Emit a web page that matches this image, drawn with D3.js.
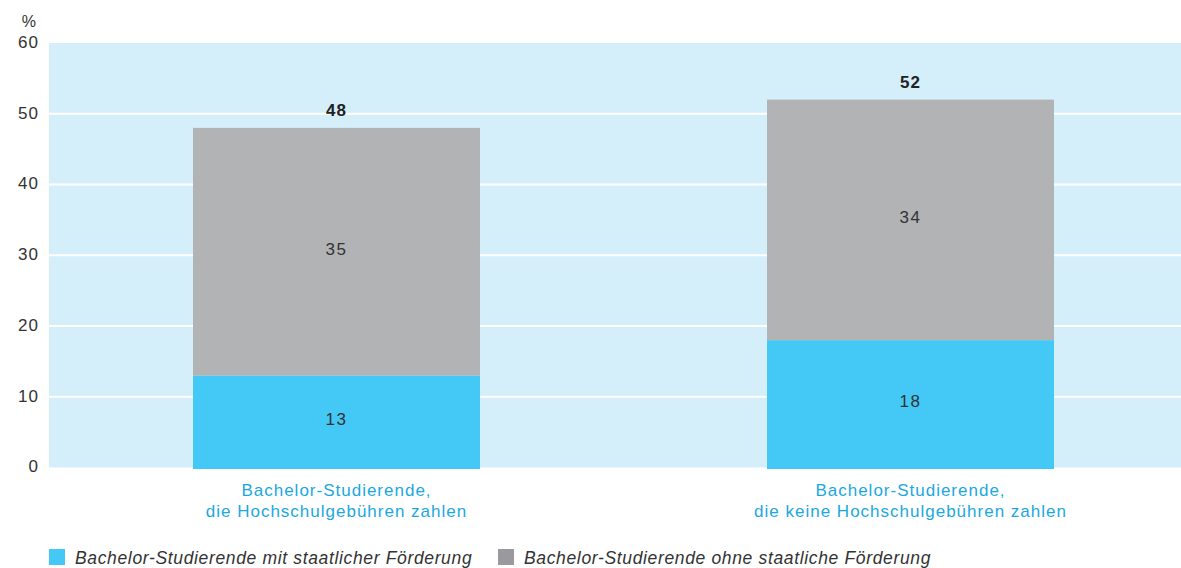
<!DOCTYPE html>
<html>
<head>
<meta charset="utf-8">
<script src="https://cdn.jsdelivr.net/npm/d3@7"></script>
<style>
  body { margin: 0; background: #fff; }
  svg { display: block; font-family: "Liberation Sans", Arial, sans-serif; }
</style>
</head>
<body>
<svg id="chart" width="1181" height="568"></svg>
<script>
// data
const categories = [
    ["Bachelor-Studierende,", "die Hochschulgebühren zahlen"],
    ["Bachelor-Studierende,", "die keine Hochschulgebühren zahlen"]
];
const seriesNames = [
    "Bachelor-Studierende mit staatlicher Förderung",
    "Bachelor-Studierende ohne staatliche Förderung"
];
const withFunding = [13, 18];
const withoutFunding = [35, 34];
const totals = [48, 52];
const yTicks = [0, 10, 20, 30, 40, 50, 60];

const colors = {
    bg: "#d4eefa",
    blue: "#44c8f5",
    grey: "#b2b3b5",
    legendGrey: "#9a9a9e",
    catText: "#1ba8e0",
    text: "#333"
};

const svg = d3.select("#chart");

const y = d3.scaleLinear().domain([0, 60]).range([467.5, 43]);
const x = d3.scaleBand().domain(d3.range(categories.length))
    .range([49.5, 1197.5]).paddingInner(0.5).paddingOuter(0.25);

// plot background
svg.append("rect")
    .attr("x", 49).attr("y", y(60))
    .attr("width", 1181 - 49).attr("height", y(0) - y(60))
    .attr("fill", colors.bg);

// gridlines
svg.append("g").selectAll("line")
    .data(yTicks.filter(d => d > 0 && d < 60))
    .join("line")
    .attr("x1", 49).attr("x2", 1181)
    .attr("y1", d => y(d)).attr("y2", d => y(d))
    .attr("stroke", "#fff").attr("stroke-width", 2);

// y axis labels
const yAxis = svg.append("g")
    .attr("transform", "translate(39,0)")
    .call(d3.axisLeft(y).tickValues(yTicks).tickSize(0).tickPadding(0));
yAxis.select(".domain").remove();
yAxis.selectAll("text")
    .attr("font-size", 17).attr("fill", colors.text)
    .attr("font-family", "Liberation Sans, Arial, sans-serif")
    .attr("letter-spacing", 1)
    .attr("dy", "0.25em");

svg.append("text")
    .attr("x", 36).attr("y", 27)
    .attr("text-anchor", "end")
    .attr("font-size", 16).attr("fill", colors.text)
    .text("%");

// stacked bars
const stacked = d3.stack().keys([0, 1])(categories.map((c, i) => [withFunding[i], withoutFunding[i]]));
const segColors = [colors.blue, colors.grey];

const bars = svg.append("g");
stacked.forEach((layer, li) => {
    bars.append("g").selectAll("rect")
        .data(layer)
        .join("rect")
        .attr("x", (d, i) => x(i))
        .attr("width", x.bandwidth())
        .attr("y", d => y(d[1]))
        .attr("height", d => (li === 0 ? y(d[0]) + 1.5 : y(d[0])) - y(d[1]))
        .attr("fill", segColors[li]);

    bars.append("g").selectAll("text")
        .data(layer)
        .join("text")
        .attr("x", (d, i) => x(i) + x.bandwidth() / 2)
        .attr("y", d => y((d[0] + d[1]) / 2))
        .attr("dy", "0.2em")
        .attr("text-anchor", "middle")
        .attr("font-size", 17).attr("fill", colors.text)
        .attr("letter-spacing", 1.5)
        .text(d => d[1] - d[0]);
});

// totals
svg.append("g").selectAll("text")
    .data(totals)
    .join("text")
    .attr("x", (d, i) => x(i) + x.bandwidth() / 2)
    .attr("y", d => y(d) - 12)
    .attr("text-anchor", "middle")
    .attr("font-size", 17).attr("font-weight", "bold")
    .attr("letter-spacing", 1)
    .attr("fill", "#222")
    .text(d => d);

// category labels
const cat = svg.append("g").selectAll("text")
    .data(categories)
    .join("text")
    .attr("x", (d, i) => x(i) + x.bandwidth() / 2)
    .attr("y", 496)
    .attr("text-anchor", "middle")
    .attr("font-size", 17).attr("letter-spacing", 1)
    .attr("fill", colors.catText);
cat.selectAll("tspan")
    .data(d => d)
    .join("tspan")
    .attr("x", function() { return this.parentNode.getAttribute("x"); })
    .attr("dy", (d, i) => i === 0 ? 0 : 21)
    .text(d => d);

// legend
const legendX = [49, 498];
const legendColors = [colors.blue, colors.legendGrey];
const legend = svg.append("g").selectAll("g")
    .data(seriesNames)
    .join("g")
    .attr("transform", (d, i) => "translate(" + legendX[i] + ",549)");
legend.append("rect")
    .attr("width", 16).attr("height", 16)
    .attr("fill", (d, i) => legendColors[i]);
legend.append("text")
    .attr("x", 26).attr("y", 15)
    .attr("font-size", 17.5).attr("font-style", "italic")
    .attr("letter-spacing", 0.65)
    .attr("fill", colors.text)
    .text(d => d);
</script>
</body>
</html>
